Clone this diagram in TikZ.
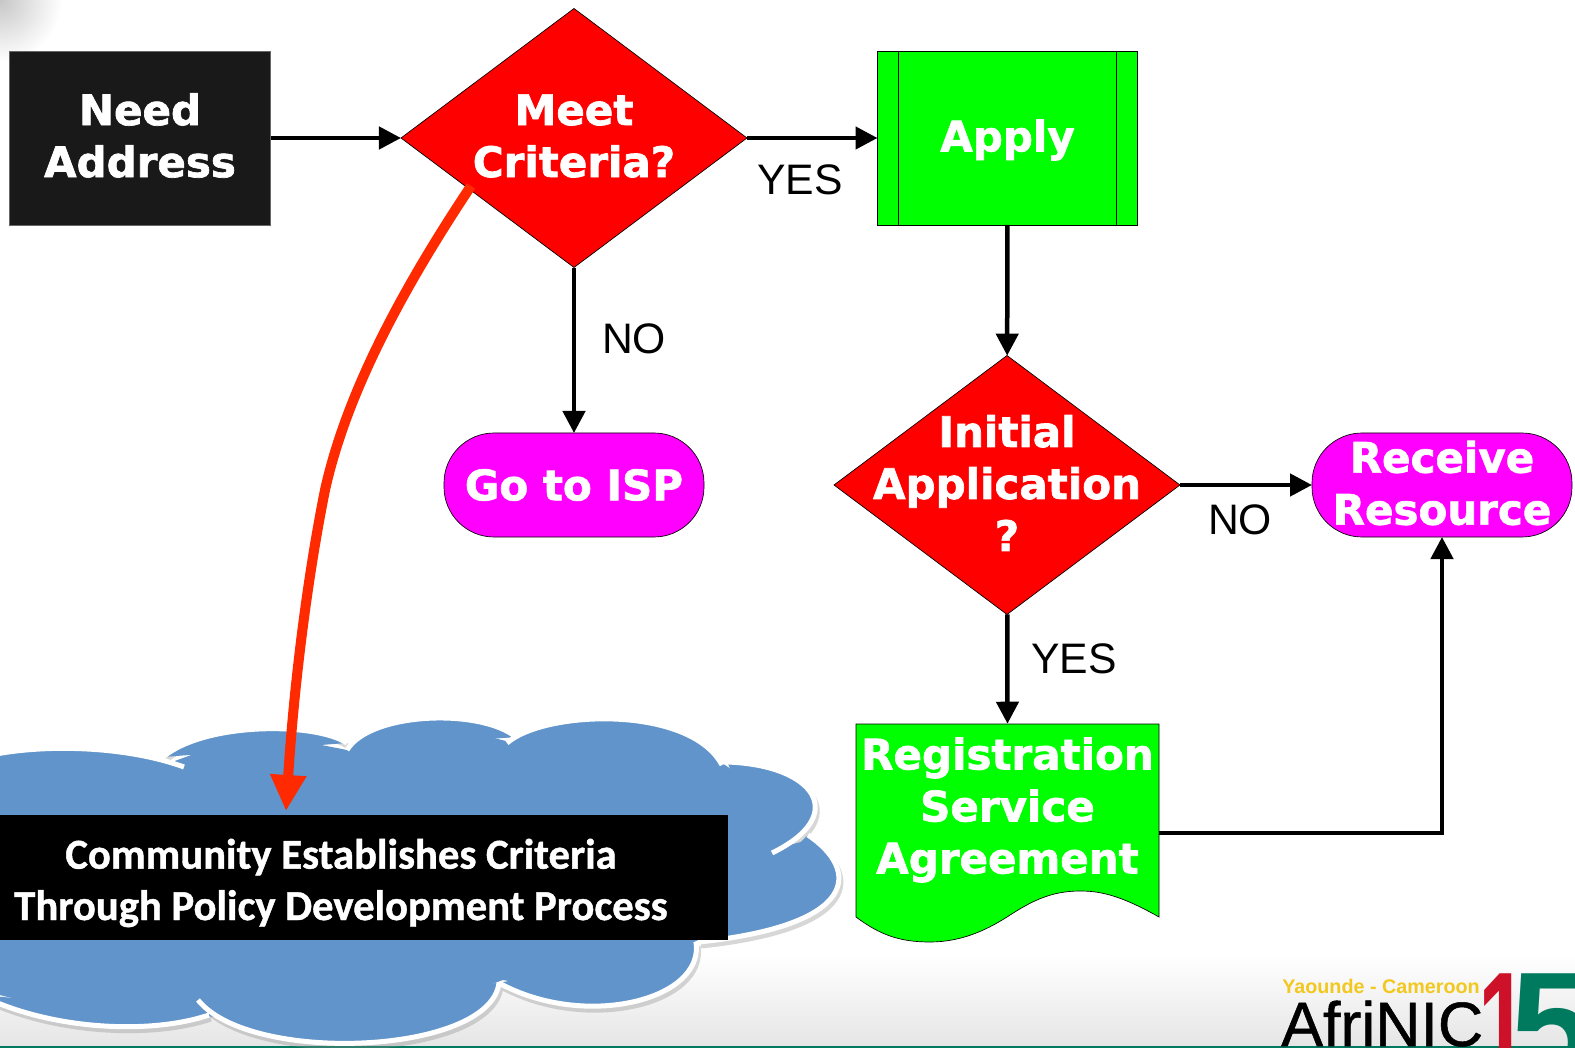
\documentclass[tikz,border=0pt]{standalone}
\usepackage{fontspec}
\setmainfont{Liberation Sans}
\newfontfamily\heavy[FakeBold=1.6]{DejaVu Sans Bold}
\newfontfamily\calib[FakeBold=1]{Carlito Bold}
\newfontfamily\logofont[FakeBold=0.8]{Liberation Sans}
\usetikzlibrary{arrows.meta,shapes.geometric}
\definecolor{cloudblue}{HTML}{6094CA}
\definecolor{redline}{HTML}{FF2A00}
\definecolor{termpink}{HTML}{FF00FF}
\definecolor{logoyellow}{HTML}{F2C81E}
\definecolor{logored}{HTML}{CC1128}
\definecolor{logogreen}{HTML}{007A5E}
\newcommand{\px}{0.75pt}
\newcommand{\cloudlobes}{
  (-40,765) .. controls (0,745) and (110,740) .. (184,767)
  (163,757) .. controls (205,722) and (315,722) .. (347,743)
  (347,750) .. controls (370,712) and (480,708) .. (516,737)
  (507,743) .. controls (545,710) and (690,705) .. (722,765)
  (727,762) .. controls (815,765) and (850,815) .. (772,853)
  (808,835) .. controls (860,870) and (860,925) .. (699,942)
  (696,942) .. controls (705,1000) and (585,1030) .. (499,983)
  (499,983) .. controls (490,1055) and (250,1065) .. (198,1000)
  (209,1015) .. controls (150,1035) and (50,1030) .. (-20,995)
}
\tikzset{
  treetext/.style = {align=center, inner sep=0pt, text=white, font=\heavy\fontsize{31.5}{39}\selectfont},
  proc_k/.style = {rectangle, inner sep=0pt, outer sep=0pt, fill=black!90, draw=black!60, line width=0.5pt, minimum width=261*\px, minimum height=174*\px},
  proc_g/.style = {proc_k, fill=green, draw=black, minimum width=260*\px},
  dec_r/.style = {diamond, inner sep=0pt, outer sep=0pt, fill=red, draw=black, line width=0.5pt, minimum width=346*\px, minimum height=259*\px, aspect=1.336},
  term_m/.style = {rectangle, rounded corners=50*\px, inner sep=0pt, outer sep=0pt, fill=termpink, draw=black, line width=0.5pt, minimum width=260*\px, minimum height=104*\px},
  answer/.style = {inner sep=0pt, font=\fontsize{32}{38}\selectfont},
  flow/.style = {draw=black, line width=4.5*\px, -{Triangle[length=22*\px, width=22*\px]}},
}
\begin{document}
\begin{tikzpicture}[x=\px, y=-\px]
  \useasboundingbox (0,0) rectangle (1575,1048);
  \shade[top color=white, bottom color=black!10] (0,955) rectangle (1575,1046);
  \shade[inner color=black!22, outer color=white] (0,0) circle (62);
  \fill[logogreen] (0,1046) rectangle (1575,1048);

  \draw[black!45, opacity=0.35, line width=5*\px, shift={(2,4)}] \cloudlobes;
  \fill[cloudblue] \cloudlobes;
  \fill[cloudblue] (-40,760) -- (60,752) -- (172,762) -- (255,732) -- (347,750) -- (430,722) -- (510,742)
    -- (610,724) -- (725,765) -- (790,810) -- (775,849) -- (808,840) -- (825,880) -- (702,938) -- (590,995)
    -- (503,980) -- (350,1035) -- (207,1016) -- (100,1020) -- (-20,990) -- cycle;
  \draw[white, line width=5*\px] \cloudlobes;

  \node [rectangle, fill=black, inner sep=0pt, outer sep=0pt, minimum width=773*\px, minimum height=125*\px] (community) at (341.5,877) {};
  \node [align=center, inner sep=0pt, text=white, font=\calib\fontsize{32}{38.5}\selectfont] (communitylabel) at (341,883)
    {Community Establishes Criteria\\Through Policy Development Process};

  \node [proc_k] (need) at (140,138) {};
  \node [treetext] (needlabel) at (140,135.5) {Need\\Address};
  \node [dec_r] (meet) at (574,138) {};
  \node [treetext] (meetlabel) at (574,136) {Meet\\Criteria?};
  \node [proc_g] (apply) at (1007.5,138) {};
  \node [treetext] (applylabel) at (1007.5,140) {Apply};
  \draw[black, line width=0.5pt] (898,51) -- (898,225) (1116,51) -- (1116,225);
  \node [dec_r] (initial) at (1007,485) {};
  \node [treetext] (initiallabel) at (1007,483) {Initial\\Application\\?};
  \node [term_m, treetext] (goisp) at (574,485) {Go to ISP};
  \node [term_m] (receive) at (1442,485) {};
  \node [treetext] (receivelabel) at (1442,483) {Receive\\Resource};

  \filldraw[fill=green, draw=black, line width=0.5pt] (856,724) -- (1159,724) -- (1159,917)
    .. controls (1120,895) and (1100,891) .. (1080,891) .. controls (1050,891) and (1030,902) .. (1007,917)
    .. controls (985,931) and (960,942) .. (930,942) .. controls (900,942) and (880,935) .. (856,917) -- cycle;
  \node [treetext, minimum width=303*\px, minimum height=172*\px] (reg) at (1007.5,810)
    {Registration\\Service\\Agreement};

  \coordinate (regout) at (1159,833);
  \coordinate (redstart) at (471,186);
  \coordinate (redend) at (286,811);

  \draw[flow] (need) -- (meet);
  \draw[flow] (meet) -- (apply);
  \draw[flow] (meet) -- (goisp);
  \draw[flow] (apply) -- (initial);
  \draw[flow] (initial) -- (receive);
  \draw[flow] (initial) -- (reg.north);
  \draw[flow] (regout) -| (receive.south);
  \draw[draw=redline, line width=10*\px, -{Triangle[length=36*\px, width=34*\px]}]
    (redstart) .. controls (395,300) and (345,400) .. (325,490)
    .. controls (305,590) and (293,700) .. (redend);

  \node [answer] (yes1) at (800,180) {YES};
  \node [answer] (no1) at (634,339) {NO};
  \node [answer] (no2) at (1240,520) {NO};
  \node [answer] (yes2) at (1074,659) {YES};

  \node [inner sep=0pt, text=logoyellow, font=\bfseries\fontsize{14.8}{18}\selectfont] (yaounde) at (1381,986) {Yaounde - Cameroon};
  \node [inner sep=0pt, anchor=base west, text depth=0pt, font=\logofont\fontsize{47}{50}\selectfont] (afrinic) at (1281,1046) {AfriNIC};
  \node [inner sep=0pt, anchor=base west, transform shape, xscale=0.6, text=logored, font=\bfseries\fontsize{112}{112}\selectfont] (one) at (1478,1076) {1};
  \node [inner sep=0pt, anchor=base west, text=logogreen, font=\bfseries\fontsize{112}{112}\selectfont] (five) at (1510,1076) {5};
\end{tikzpicture}
\end{document}
